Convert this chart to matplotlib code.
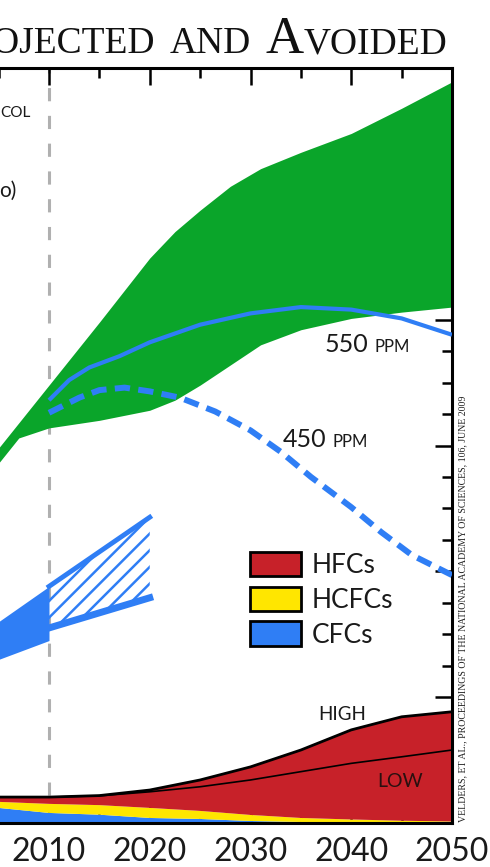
import numpy as np
import matplotlib
matplotlib.use("Agg")
from matplotlib import pyplot as plt
from matplotlib.patches import Patch

plt.rcParams['lines.scale_dashes'] = False

# ---- data (years, GtCO2-eq/yr style units) ----
band_years = [2005, 2007, 2010, 2015, 2020, 2022.5, 2025, 2028, 2031, 2035, 2040, 2045, 2050]
band_upper = [14.9, 15.9, 17.4, 19.9, 22.45, 23.5, 24.35, 25.3, 26.0, 26.65, 27.4, 28.4, 29.45]
band_lower = [14.3, 15.3, 15.7, 16.0, 16.4, 16.8, 17.4, 18.2, 19.0, 19.6, 20.05, 20.3, 20.5]

ppm550_years = [2010, 2012, 2014, 2017, 2020, 2025, 2030, 2035, 2040, 2045, 2050]
ppm550 = [16.8, 17.6, 18.1, 18.55, 19.1, 19.8, 20.25, 20.5, 20.4, 20.05, 19.4]

ppm450_years = [2010, 2013, 2015, 2017.5, 2020, 2023, 2026.5, 2030, 2033, 2036, 2040, 2043, 2046, 2050]
ppm450 = [16.3, 16.9, 17.2, 17.3, 17.15, 16.9, 16.35, 15.6, 14.75, 13.75, 12.55, 11.55, 10.65, 9.85]

cfc_hist_years = [2005, 2010]
cfc_hist_top = [8.0, 9.4]
cfc_hist_bot = [6.5, 7.25]
cfc_proj_years = [2010, 2020]
cfc_proj_top = [9.4, 12.15]
cfc_proj_bot = [7.75, 8.95]

years = [2005, 2010, 2015, 2020, 2025, 2030, 2035, 2040, 2045, 2050]
cfc = [0.60, 0.40, 0.33, 0.20, 0.16, 0.08, 0.04, 0.02, 0.01, 0.0]
hcfc = [0.24, 0.36, 0.38, 0.40, 0.32, 0.24, 0.16, 0.12, 0.08, 0.06]
hfc_high = [0.19, 0.27, 0.38, 0.71, 1.23, 1.91, 2.70, 3.56, 4.13, 4.36]
hfc_low = [0.19, 0.27, 0.37, 0.64, 0.96, 1.39, 1.84, 2.23, 2.54, 2.84]

xticks = [2010, 2020, 2030, 2040, 2050]

green = '#0aa52a'
blue = '#2f7ef5'
red = '#c72129'
yellow = '#ffe600'

W, H = 490, 867
fig = plt.figure(figsize=(W / 100, H / 100), dpi=100)
ax = fig.add_axes([-51.75 / W, 1 - 823 / H, 503.75 / W, 755 / H])
ax.set_xlim(2000, 2050)
ax.set_ylim(0, 30)

# green scenario band and stabilisation paths
ax.fill_between(band_years, band_lower, band_upper, color=green, lw=0, zorder=2)
ax.plot(ppm550_years, ppm550, color=blue, lw=3, zorder=4, solid_capstyle='butt')
ax.plot(ppm450_years, ppm450, color=blue, lw=4.3, dashes=(11, 6),
        dash_capstyle='butt', zorder=4)

# CFC band, solid history then hatched projection
ax.fill_between(cfc_hist_years, cfc_hist_bot, cfc_hist_top, color=blue, lw=0, zorder=3)
plt.rcParams['hatch.linewidth'] = 1.8
plt.rcParams['hatch.color'] = blue
ax.fill_between(cfc_proj_years, cfc_proj_bot, cfc_proj_top, facecolor='none',
                edgecolor=blue, hatch='//', lw=0, zorder=3)
ax.plot(cfc_proj_years, cfc_proj_top, color=blue, lw=3.5, zorder=3)
ax.plot(cfc_proj_years, cfc_proj_bot, color=blue, lw=5, zorder=3)

# stacked emissions at the bottom
ax.stackplot(years, cfc, hcfc, hfc_high, colors=[blue, yellow, red], lw=0, zorder=2)
high_cum = np.array(cfc) + np.array(hcfc) + np.array(hfc_high)
low_cum = np.array(cfc) + np.array(hcfc) + np.array(hfc_low)
ax.plot(years, high_cum, color='black', lw=2, zorder=3)
ax.plot(years, low_cum, color='black', lw=1.2, zorder=3)

# 2010 marker
ax.axvline(2010, color='#b0b0b0', lw=2.2, dashes=(9.5, 10.5), zorder=1)

# axes styling
for s in ax.spines.values():
    s.set_linewidth(2.2)
ax.spines['left'].set_visible(False)
ax.set_xticks(list(range(2000, 2051, 10)))
ax.set_xticklabels([''] + [str(x) for x in xticks])
ax.set_xticks(list(range(2005, 2050, 10)), minor=True)
ax.set_yticks(np.arange(0, 30.1, 5))
ax.set_yticks(np.arange(0, 30.1, 1.25), minor=True)
ax.tick_params(axis='both', which='both', direction='in', width=1.8, color='black')
ax.tick_params(axis='both', which='major', length=12)
ax.tick_params(axis='both', which='minor', length=7)
ax.tick_params(axis='x', which='both', top=True, bottom=True, labelsize=23, pad=10,
               labelcolor='#1a1a1a')
ax.tick_params(axis='y', which='both', left=False, right=True, labelleft=False, labelright=False)
for lab in ax.get_xticklabels():
    lab.set_family('Lato')

# legend
handles = [Patch(facecolor=c, edgecolor='black', lw=2) for c in (red, yellow, blue)]
leg = ax.legend(handles, ['HFCs', 'HCFCs', 'CFCs'], loc='upper left',
                bbox_to_anchor=(250 / W, 1 - 552 / H), bbox_transform=fig.transFigure,
                frameon=False, borderpad=0, borderaxespad=0, handlelength=1.95,
                handleheight=1.05, labelspacing=0.32, handletextpad=0.38,
                prop={'family': 'Lato', 'size': 19})
for t in leg.get_texts():
    t.set_color('#1a1a1a')

renderer = fig.canvas.get_renderer()


def chain(x, y, parts, family, color='#1a1a1a'):
    # draw text pieces left to right at one baseline (display px)
    for s, size in parts:
        if s is None:
            x += size
            continue
        t = fig.text(x / W, y / H, s, ha='left', va='baseline', fontsize=size,
                     family=family, color=color)
        x = t.get_window_extent(renderer).x1
    return x


def to_px(xd, yd):
    return ax.transData.transform((xd, yd))


# title, right-aligned at the right edge of the plot
title_parts = [('P', 38), ('ROJECTED', 27), (None, 14), ('AND', 27), (None, 14),
               ('A', 38), ('VOIDED', 27)]
probe = chain(0, H - 53, title_parts, 'Liberation Serif', color='none')
for t in list(fig.texts):
    t.remove()
chain(447 - probe, H - 53, title_parts, 'Liberation Serif', color='#111111')

# labels on the plot
px, py = to_px(2037.4, 18.7)
chain(px, py, [('550', 18), (None, 6), ('PPM', 12)], 'Lato')
px, py = to_px(2033.2, 14.95)
chain(px, py, [('450', 18), (None, 6), ('PPM', 12)], 'Lato')
ax.text(2036.7, 4.1, 'HIGH', fontsize=13.5, family='Lato', color='#1a1a1a', va='baseline')
ax.text(2042.6, 1.43, 'LOW', fontsize=14, family='Lato', color='#2a1010', va='baseline')

fig.text(0 / W, 1 - 117 / H, 'COL', fontsize=11, family='Lato', color='#1a1a1a', va='baseline')
fig.text(-1 / W, 1 - 197 / H, 'o)', fontsize=15, family='Lato', color='#1a1a1a', va='baseline')

fig.text(463 / W, 1 - 822 / H,
         'VELDERS, ET AL., PROCEEDINGS OF THE NATIONAL ACADEMY OF SCIENCES, 106, JUNE 2009',
         rotation=90, ha='center', va='bottom', fontsize=7.1, family='Liberation Serif',
         color='#222222')

fig.savefig('out.png', dpi=100)
